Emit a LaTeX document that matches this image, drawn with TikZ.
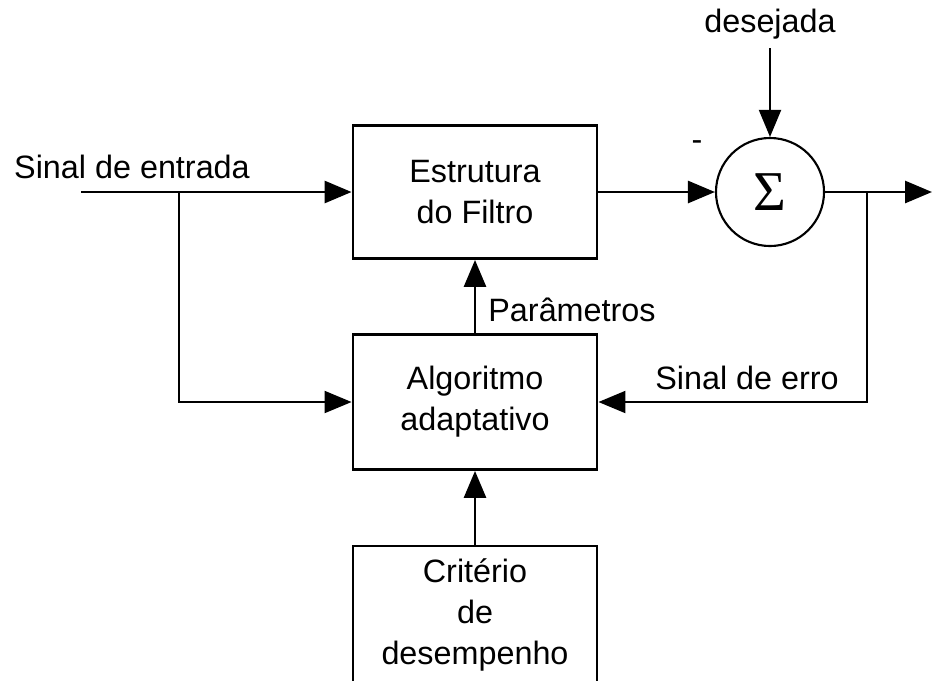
\documentclass[tikz,border=0pt]{standalone}
\usepackage{fontspec}
\setmainfont{Liberation Sans}
\newfontfamily\somafont{Liberation Serif}
\usetikzlibrary{arrows.meta}

\begin{document}
\begin{tikzpicture}[x=0.025cm, y=-0.025cm,
	bloco/.style={draw, line width=2pt, minimum width=6.1cm, align=center, inner sep=0pt},
	fluxo/.style={line width=2pt, -{Triangle[length=0.675cm, width=0.55cm]}},
	ramo/.style={fluxo, line width=1.4pt}]
	\fontsize{23}{29}\selectfont
	\useasboundingbox (0,0) rectangle (932,680);

	% blocos
	\node[bloco, minimum height=3.325cm] (filtro) at (475,192) {Estrutura\\do Filtro};
	\node[bloco, minimum height=3.375cm] (algo) at (475,402) {Algoritmo\\adaptativo};
	\node[bloco, minimum height=3.45cm] (crit) at (475,615) {Critério\\de\\desempenho};
	\node[draw, circle, line width=1.5pt, minimum size=2.7cm, inner sep=0pt] (soma) at (770,192) {\somafont\fontsize{40}{40}\selectfont Σ};

	% pontos livres
	\coordinate (entrada) at (81,192);
	\coordinate (split) at (179,192);
	\coordinate (tap) at (867,192);
	\coordinate (saida) at (932,192);
	\coordinate (des) at (770,48);

	% ligacoes
	\draw[fluxo] (entrada) -- (filtro.west);
	\draw[ramo] (split) |- (algo.west);
	\draw[fluxo] (filtro.east) -- (soma.west);
	\draw[fluxo] (soma.east) -- (saida);
	\draw[ramo] (tap) |- (algo.east);
	\draw[fluxo] (algo) -- (filtro);
	\draw[fluxo] (crit) -- (algo);
	\draw[ramo] (des) -- (soma);

	% rotulos
	\node (lentrada) at (132,167) {Sinal de entrada};
	\node (ldes) at (770,24) {desejada};
	\node (lmenos) at (697,146) {-};
	\node (lpar) at (572,310) {Parâmetros};
	\node (lerro) at (747,378) {Sinal de erro};
\end{tikzpicture}
\end{document}
